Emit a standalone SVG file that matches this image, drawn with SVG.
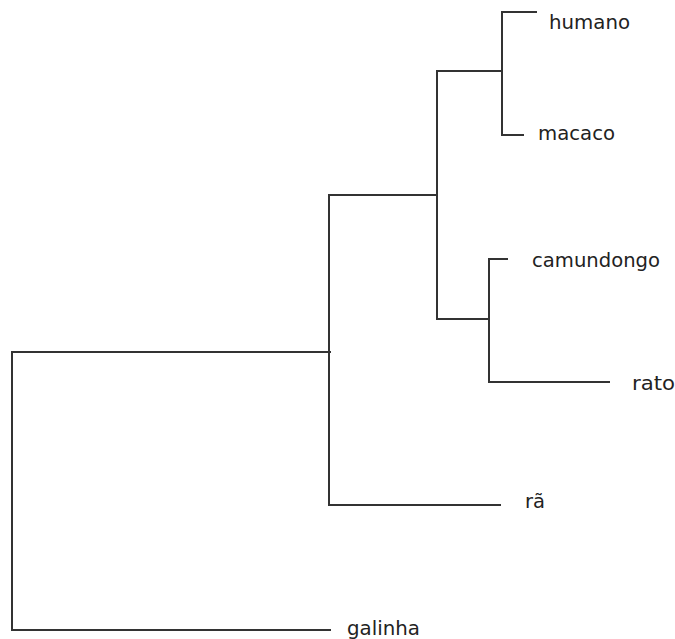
<svg xmlns="http://www.w3.org/2000/svg" width="675" height="639" viewBox="0 0 675 639">
  <style>
    .branch { fill: none; stroke: #333333; stroke-width: 2; stroke-linecap: square; }
    .label { font-family: "DejaVu Sans", "Liberation Sans", sans-serif; font-size: 19px; fill: #222222; }
  </style>
  <rect width="675" height="639" fill="#ffffff"/>
  <g id="connectors">
    <!-- root: galinha vs rest -->
    <path class="branch" d="M330 352 H12 V630 H330"/>
    <!-- rã vs mammals -->
    <path class="branch" d="M437 195 H329 V505 H500"/>
    <!-- primates vs rodents -->
    <path class="branch" d="M502 71 H437 V319 H489"/>
    <!-- humano / macaco -->
    <path class="branch" d="M536 12 H502 V135 H523"/>
    <!-- camundongo / rato -->
    <path class="branch" d="M507 259 H489 V382 H609"/>
  </g>
  <g id="humano"><text class="label" x="549" y="29" textLength="81" lengthAdjust="spacingAndGlyphs">humano</text></g>
  <g id="macaco"><text class="label" x="538" y="140" textLength="77" lengthAdjust="spacingAndGlyphs">macaco</text></g>
  <g id="camundongo"><text class="label" x="532" y="267" textLength="128" lengthAdjust="spacingAndGlyphs">camundongo</text></g>
  <g id="rato"><text class="label" x="632" y="390" textLength="43" lengthAdjust="spacingAndGlyphs">rato</text></g>
  <g id="ra"><text class="label" x="525" y="508" textLength="20" lengthAdjust="spacingAndGlyphs">rã</text></g>
  <g id="galinha"><text class="label" x="347" y="635" textLength="73" lengthAdjust="spacingAndGlyphs">galinha</text></g>
</svg>
